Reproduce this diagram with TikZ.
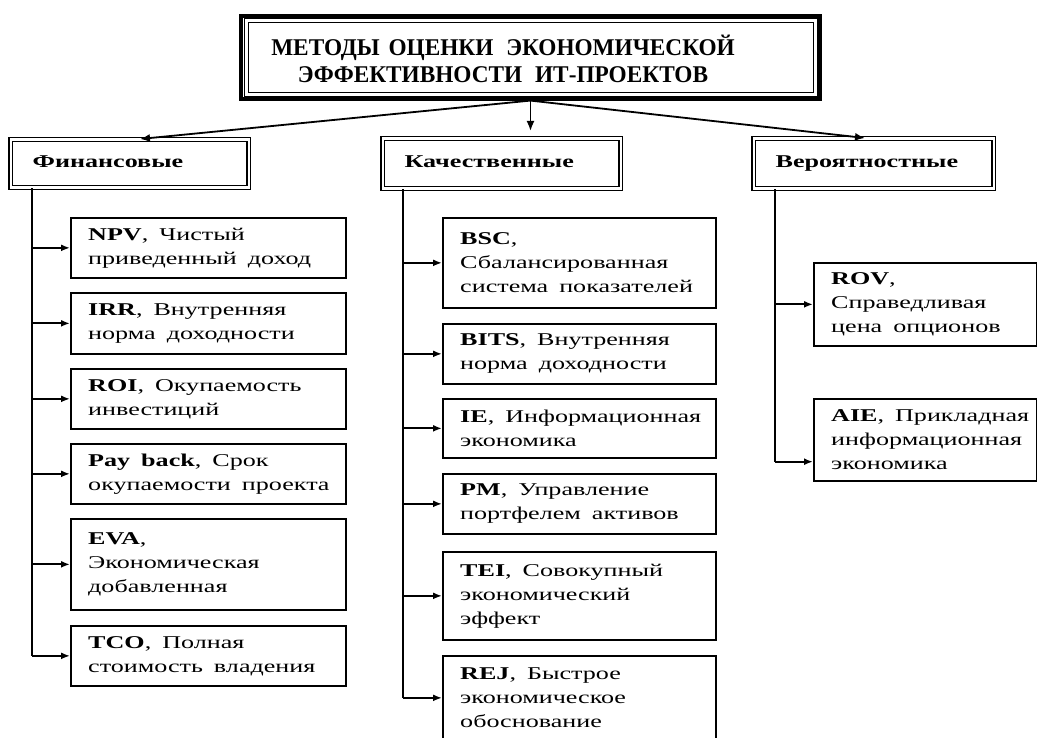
\documentclass[tikz,border=0pt]{standalone}
\usepackage{fontspec}
\setmainfont{Liberation Serif}[FakeStretch=1.45]
\newfontfamily\titlefont{Liberation Serif}[FakeStretch=0.97]
\usetikzlibrary{arrows.meta}
\newcommand\wideSpaces{\spaceskip=11pt\relax}
\begin{document}
\begin{tikzpicture}[x=1pt,y=-1pt,
  mbox/.style={draw, line width=1.7pt, inner sep=0pt, anchor=north west},
  mtext/.style={anchor=west, align=left, inner sep=0pt, xshift=18pt, font=\fontsize{18}{24}\selectfont, execute at begin node=\wideSpaces},
  cat/.style={draw, double, double distance=2.2pt, line width=1.2pt, anchor=north west, inner sep=0pt, inner xsep=22pt, align=left, font=\fontsize{18}{22}\selectfont\bfseries},
  titlebox/.style={draw, line width=3.2pt, inner sep=0pt},
  titletext/.style={inner sep=0pt, align=center, font=\titlefont\fontsize{24}{27}\selectfont\bfseries},
  conn/.style={line width=1.8pt},
  arr/.style={line width=1.8pt, -{Latex[length=10pt,width=8pt]}},
  sarr/.style={line width=1.8pt, -{Latex[length=9pt,width=7pt]}}
]
\useasboundingbox (0,0) rectangle (1037,738);
\fill[white] (0,0) rectangle (1037,738);

% title
\node[titlebox, minimum width=579pt, minimum height=83pt] (title) at (530.5,57.5) {};
\draw[line width=0.8pt] ([shift={(4.5pt,-4.5pt)}]title.north west) rectangle ([shift={(-4.5pt,4.5pt)}]title.south east);
\draw[line width=0.8pt] ([shift={(8.5pt,-8.5pt)}]title.north west) rectangle ([shift={(-8.5pt,8.5pt)}]title.south east);
\node[titletext] (titleT) at (503,59)
  {МЕТОДЫ\hspace{3pt} ОЦЕНКИ\hspace{7pt} ЭКОНОМИЧЕСКОЙ\\ЭФФЕКТИВНОСТИ\hspace{7pt} ИТ-ПРОЕКТОВ};

% categories
\node[cat, minimum width=238pt, minimum height=48pt, text width=194pt] (fin) at (10,139) {Финансовые\strut};
\node[cat, minimum width=238pt, minimum height=50pt, text width=194pt] (kach) at (382,138) {Качественные\strut};
\node[cat, minimum width=240pt, minimum height=50pt, text width=196pt] (ver) at (753,138) {Вероятностные\strut};

\draw[arr] (title.south) -- ([xshift=130pt]fin.north west);
\draw[arr] (title.south) -- ([yshift=7pt]title.south |- kach.north);
\draw[arr] (title.south) -- ([xshift=112pt]ver.north west);

% financial boxes
\node[mbox, minimum width=275pt, minimum height=60pt] (npv) at (70,217) {};
\node[mtext] (npvT) at (npv.west) {\textbf{NPV}, Чистый\\приведенный доход};
\node[mbox, minimum width=275pt, minimum height=61pt] (irr) at (70,292) {};
\node[mtext] (irrT) at (irr.west) {\textbf{IRR}, Внутренняя\\норма доходности};
\node[mbox, minimum width=275pt, minimum height=60pt] (roi) at (70,368) {};
\node[mtext] (roiT) at (roi.west) {\textbf{ROI}, Окупаемость\\инвестиций};
\node[mbox, minimum width=275pt, minimum height=60pt] (pb) at (70,443) {};
\node[mtext] (pbT) at (pb.west) {\textbf{Pay back}, Срок\\окупаемости проекта};
\node[mbox, minimum width=275pt, minimum height=91pt] (eva) at (70,518) {};
\node[mtext] (evaT) at (eva.west) {\textbf{EVA},\\Экономическая\\добавленная};
\node[mbox, minimum width=275pt, minimum height=60pt] (tco) at (70,625) {};
\node[mtext] (tcoT) at (tco.west) {\textbf{TCO}, Полная\\стоимость владения};

\coordinate (fL) at ([xshift=22pt]fin.south west);
\draw[conn] (fL) -- (fL |- tco.west);
\foreach \b in {npv,irr,roi,pb,eva,tco}
  \draw[sarr] (fL |- \b.west) -- (\b.west);

% qualitative boxes
\node[mbox, minimum width=273pt, minimum height=90pt] (bsc) at (442,217) {};
\node[mtext] (bscT) at (bsc.west) {\textbf{BSC},\\Сбалансированная\\система показателей};
\node[mbox, minimum width=273pt, minimum height=60pt] (bits) at (442,323) {};
\node[mtext] (bitsT) at (bits.west) {\textbf{BITS}, Внутренняя\\норма доходности};
\node[mbox, minimum width=273pt, minimum height=59pt] (ie) at (442,398) {};
\node[mtext] (ieT) at (ie.west) {\textbf{IE}, Информационная\\экономика};
\node[mbox, minimum width=273pt, minimum height=60pt] (pm) at (442,473) {};
\node[mtext] (pmT) at (pm.west) {\textbf{PM}, Управление\\портфелем активов};
\node[mbox, minimum width=273pt, minimum height=88pt] (tei) at (442,551) {};
\node[mtext] (teiT) at (tei.west) {\textbf{TEI}, Совокупный\\экономический\\эффект};
\node[mbox, minimum width=273pt, minimum height=84pt] (rej) at (442,655) {};
\node[mtext] (rejT) at (rej.west) {\textbf{REJ}, Быстрое\\экономическое\\обоснование};

\coordinate (kL) at ([xshift=21pt]kach.south west);
\draw[conn] (kL) -- (kL |- rej.west);
\foreach \b in {bsc,bits,ie,pm,tei,rej}
  \draw[sarr] (kL |- \b.west) -- (\b.west);

% probabilistic boxes
\node[mbox, minimum width=223pt, minimum height=83pt] (rov) at (813,262) {};
\node[mtext] (rovT) at (rov.west) {\textbf{ROV},\\Справедливая\\цена опционов};
\node[mbox, minimum width=223pt, minimum height=82pt] (aie) at (813,398) {};
\node[mtext] (aieT) at (aie.west) {\textbf{AIE}, Прикладная\\информационная\\экономика};

\coordinate (vL) at ([xshift=22pt]ver.south west);
\coordinate (aieIn) at ([yshift=20pt]aie.south west);
\draw[conn] (vL) -- (vL |- aieIn);
\draw[sarr] (vL |- rov.west) -- (rov.west);
\draw[sarr] (vL |- aieIn) -- (aieIn);
\end{tikzpicture}
\end{document}
